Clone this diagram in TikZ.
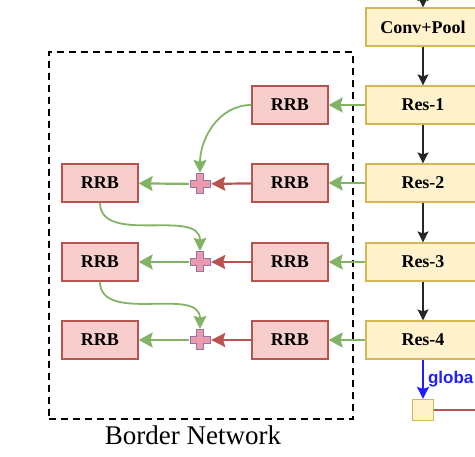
\documentclass[tikz,border=0pt]{standalone}
\usepackage{fontspec}
\setmainfont{Liberation Serif}[BoldFont={Liberation Serif Bold}]
\newfontfamily\globfont{Liberation Sans}
\usetikzlibrary{arrows.meta}
\definecolor{resfill}{HTML}{FFF2CC}
\definecolor{resline}{HTML}{D6B656}
\definecolor{rrbfill}{HTML}{F8CECC}
\definecolor{rrbline}{HTML}{B85450}
\definecolor{garrow}{HTML}{82B366}
\definecolor{rarrow}{HTML}{B85450}
\definecolor{plusfill}{HTML}{EB9AAE}
\definecolor{plusline}{HTML}{9673A6}
\definecolor{gblue}{HTML}{2020FF}
\begin{document}
\begin{tikzpicture}[x=1pt, y=1pt,
    boxfont/.style={font=\fontsize{18}{21}\selectfont\bfseries},
    resbox/.style={draw=resline, fill=resfill, line width=1.2pt, inner sep=0pt,
        minimum width=114pt, minimum height=38pt, boxfont},
    rrbbox/.style={draw=rrbline, fill=rrbfill, line width=1.2pt, inner sep=0pt,
        minimum width=76pt, minimum height=38pt, boxfont},
    gbox/.style={draw=resline, fill=resfill, line width=1.2pt, inner sep=0pt,
        minimum size=21pt},
    plusnode/.style={inner sep=0pt, minimum size=22pt,
        path picture={\draw[draw=plusline, fill=plusfill, line width=1pt,
            shift={(path picture bounding box.center)}]
            (-3.5,-10) -- (3.5,-10) -- (3.5,-3.5) -- (10,-3.5) -- (10,3.5)
            -- (3.5,3.5) -- (3.5,10) -- (-3.5,10) -- (-3.5,3.5) -- (-10,3.5)
            -- (-10,-3.5) -- (-3.5,-3.5) -- cycle;}},
    borderbox/.style={draw, line width=2.5pt, dash pattern=on 7pt off 5pt,
        minimum width=304pt, minimum height=367pt},
    karrow/.style={draw, color=black!85, line width=1.3pt, -{Stealth[length=11pt, width=11pt, inset=2pt]}},
    garrow/.style={draw, color=garrow, line width=2.2pt, -{Stealth[length=14pt, width=15pt, inset=2pt]}},
    gcurve/.style={draw, color=garrow, line width=1.8pt, -{Stealth[length=13pt, width=13pt, inset=2pt]}},
    rarrow/.style={draw, color=rarrow, line width=2.2pt, -{Stealth[length=14pt, width=14pt, inset=2pt]}},
    barrow/.style={draw, color=gblue, line width=1.5pt, -{Stealth[length=12pt, width=12pt, inset=2pt]}},
    glabel/.style={text=gblue, font=\globfont\fontsize{17}{20}\selectfont\bfseries}]

    \useasboundingbox (0,0) rectangle (475,-457);
    \clip (0,0) rectangle (475,-457);

    \node [borderbox] at (201, -235.5) (border) {};
    \node at (193, -435) (bordertitle) {\fontsize{27}{30}\selectfont Border Network};

    \coordinate (topin) at (423, 10);
    \node [resbox] at (423, -27)  (conv) {Conv+Pool};
    \node [resbox] at (423, -105) (res1) {Res-1};
    \node [resbox] at (423, -183) (res2) {Res-2};
    \node [resbox] at (423, -262) (res3) {Res-3};
    \node [resbox] at (423, -340) (res4) {Res-4};
    \node [gbox]   at (423, -410) (gpool) {};
    \coordinate (gend) at (480, -410);

    \node [rrbbox] at (290, -105) (rrb1) {RRB};
    \node [rrbbox] at (290, -183) (rrb2) {RRB};
    \node [rrbbox] at (290, -262) (rrb3) {RRB};
    \node [rrbbox] at (290, -340) (rrb4) {RRB};

    \node [plusnode] at (200, -184) (plus2) {};
    \node [plusnode] at (200, -262) (plus3) {};
    \node [plusnode] at (200, -340) (plus4) {};

    \node [rrbbox] at (100, -183) (out2) {RRB};
    \node [rrbbox] at (100, -262) (out3) {RRB};
    \node [rrbbox] at (100, -340) (out4) {RRB};

    \path [karrow]
        (topin) edge (conv)
        (conv) edge (res1)
        (res1) edge (res2)
        (res2) edge (res3)
        (res3) edge (res4);

    \path [barrow]
        (res4) edge node [glabel, right, xshift=1pt] {globa} (gpool);

    \path [draw=rarrow, line width=2pt]
        (gpool) edge (gend);

    \path [garrow]
        (res1) edge (rrb1)
        (res2) edge (rrb2)
        (res3) edge (rrb3)
        (res4) edge (rrb4)
        (plus2) edge (out2)
        (plus3) edge (out3)
        (plus4) edge (out4);

    \path [rarrow]
        (rrb2) edge (plus2)
        (rrb3) edge (plus3)
        (rrb4) edge (plus4);

    \path [gcurve]
        (rrb1) edge [out=180, in=90] (plus2)
        (out2) edge [out=-90, in=90] (plus3)
        (out3) edge [out=-90, in=90] (plus4);
\end{tikzpicture}
\end{document}
